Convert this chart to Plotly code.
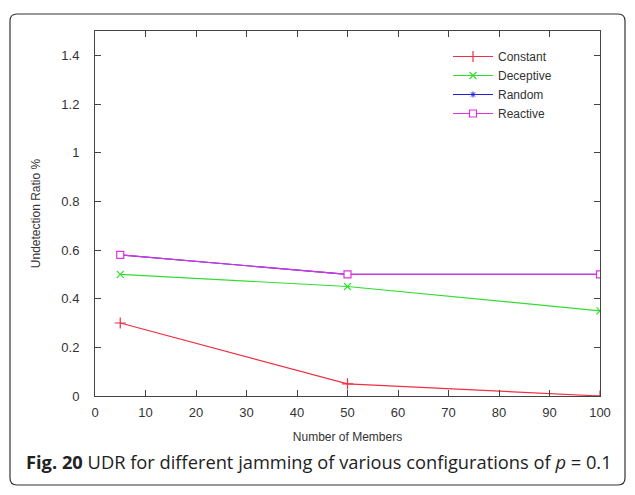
import plotly.graph_objects as go

members = [5, 50, 100]
constant = [0.30, 0.05, 0.0]
deceptive = [0.50, 0.45, 0.35]
random_jam = [0.58, 0.50, 0.50]
reactive = [0.58, 0.50, 0.50]

x_ticks = list(range(0, 101, 10))
y_ticks = [0, 0.2, 0.4, 0.6, 0.8, 1.0, 1.2, 1.4]
y_tick_text = ["0", "0.2", "0.4", "0.6", "0.8", "1", "1.2", "1.4"]

W, H = 635, 495
ML, MR, MT, MB = 95, 35, 31, 99
PW, PH = W - ML - MR, H - MT - MB


def px(x):
    return (x - ML) / PW


def py(y):
    return (H - MB - y) / PH


fig = go.Figure()

series = [
    ("Constant", constant, "#ee3040", dict(symbol="cross-thin", size=8, line=dict(width=1.2, color="#ee3040"))),
    ("Deceptive", deceptive, "#33dd33", dict(symbol="x-thin", size=7, line=dict(width=1.2, color="#33dd33"))),
    ("Random", random_jam, "#2020dd", dict(symbol="asterisk", size=5, line=dict(width=1, color="#2020dd"))),
    ("Reactive", reactive, "#dd33dd", dict(symbol="square", size=7, color="white", line=dict(width=1.2, color="#dd33dd"))),
]
for name, ys, col, mk in series:
    fig.add_trace(go.Scatter(
        x=members, y=ys, name=name, mode="lines+markers",
        line=dict(color=col, width=1.2), marker=mk,
    ))

label_font = dict(family="Liberation Sans, Arial", size=13, color="#333")

axis_common = dict(
    showgrid=False, zeroline=False, showline=True, linecolor="#444", linewidth=1,
    mirror="ticks", ticks="inside", ticklen=6, tickcolor="#444",
    tickfont=label_font,
)

fig.update_xaxes(range=[0, 100], tickvals=x_ticks, ticklabelstandoff=4,
                 title=dict(text="Number of Members", standoff=14,
                            font=dict(family="Liberation Sans, Arial", size=12, color="#333")),
                 **axis_common)
fig.update_yaxes(range=[0, 1.5], tickvals=y_ticks, ticktext=y_tick_text,
                 ticklabelstandoff=12,
                 title=dict(text="Undetection Ratio %", standoff=18,
                            font=dict(family="Liberation Sans, Arial", size=12, color="#333")),
                 **axis_common)

# rounded frame around the figure and its caption
x0, x1 = px(10), px(625)
y0, y1 = py(485), py(14)
rx, ry = 7 / PW, 7 / PH
path = (f"M {x0+rx},{y1} L {x1-rx},{y1} Q {x1},{y1} {x1},{y1-ry} "
        f"L {x1},{y0+ry} Q {x1},{y0} {x1-rx},{y0} "
        f"L {x0+rx},{y0} Q {x0},{y0} {x0},{y0+ry} "
        f"L {x0},{y1-ry} Q {x0},{y1} {x0+rx},{y1} Z")
fig.add_shape(type="path", path=path, xref="paper", yref="paper",
              line=dict(color="#333", width=1.2), layer="below")

fig.add_annotation(
    x=px(319), y=py(461), xref="paper", yref="paper", showarrow=False,
    xanchor="center", yanchor="middle",
    text="<b>Fig. 20</b> UDR for different jamming of various configurations of <i>p</i> = 0.1",
    font=dict(family="Open Sans", size=18.3, color="#222"),
)

fig.update_layout(
    width=W, height=H,
    margin=dict(l=ML, r=MR, t=MT, b=MB),
    paper_bgcolor="white", plot_bgcolor="white",
    showlegend=True,
    legend=dict(x=px(448), y=py(42), xanchor="left", yanchor="top",
                bgcolor="rgba(0,0,0,0)", borderwidth=0,
                font=dict(family="Liberation Sans, Arial", size=12, color="#333"),
                tracegroupgap=0, itemwidth=40),
)

fig.write_html("out.html")
